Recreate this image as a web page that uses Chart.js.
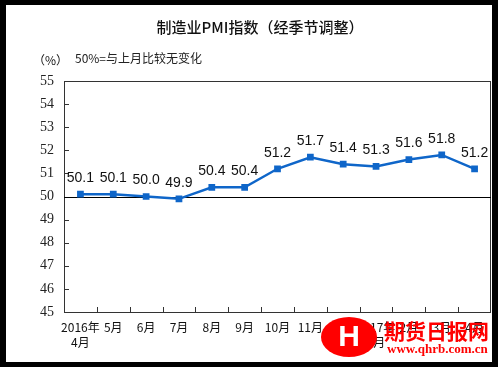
<!DOCTYPE html>
<html>
<head>
<meta charset="utf-8">
<script src="https://cdn.jsdelivr.net/npm/chart.js@4/dist/chart.umd.min.js"></script>
<style>
  html, body { margin: 0; padding: 0; background: #000; }
  #wrap { width: 498px; height: 367px; }
</style>
</head>
<body>
<div id="wrap"><canvas id="chart" width="498" height="367"></canvas></div>
<script>
// 月份标签
const months = [['2016年', '4月'], '5月', '6月', '7月', '8月', '9月', '10月', '11月', '12月', ['2017年', '1月'], '2月', '3月', '4月'];
// 制造业PMI
const pmi = [50.1, 50.1, 50.0, 49.9, 50.4, 50.4, 51.2, 51.7, 51.4, 51.3, 51.6, 51.8, 51.2];
const yTicks = [45, 46, 47, 48, 49, 50, 51, 52, 53, 54, 55];

const chartTitle = '制造业PMI指数（经季节调整）';
const unitText = '（%）';
const noteText = '50%=与上月比较无变化';
const markName = '期货日报网';
const markUrl = 'www.qhrb.com.cn';

const cjk = '"Noto Sans CJK SC", "Noto Sans", sans-serif';

// 背景, 框线, 刻度, 50线
const framePlugin = {
    id: 'frame',
    beforeDraw(chart) {
        const c = chart.ctx;
        c.save();
        c.fillStyle = '#000';
        c.fillRect(0, 0, chart.width, chart.height);
        c.fillStyle = '#fff';
        c.fillRect(6, 5, 486, 357);
        // 标题和说明
        c.fillStyle = '#111';
        c.textBaseline = 'middle';
        c.textAlign = 'center';
        c.font = '500 15px ' + cjk;
        c.fillText(chartTitle, 260, 27);
        c.font = '12px ' + cjk;
        c.textAlign = 'left';
        c.fillText(unitText, 33, 60);
        c.fillStyle = '#222';
        c.fillText(noteText, 75, 58);
        c.restore();
    },
    beforeDatasetsDraw(chart) {
        const c = chart.ctx;
        const a = chart.chartArea;
        const x = chart.scales.x;
        const y = chart.scales.y;
        c.save();
        c.strokeStyle = '#333';
        c.lineWidth = 1;
        c.strokeRect(Math.round(a.left) + 0.5, Math.round(a.top) + 0.5, Math.round(a.right - a.left) - 1, Math.round(a.bottom - a.top));
        // y 刻度 (向内)
        yTicks.forEach(function (v) {
            const py = Math.round(y.getPixelForValue(v)) + 0.5;
            c.beginPath();
            c.moveTo(a.left, py);
            c.lineTo(a.left + 5, py);
            c.stroke();
        });
        // x 刻度 (类别边界, 向上)
        const step = (a.right - a.left) / months.length;
        for (let i = 1; i < months.length; i++) {
            const px = Math.round(x.getPixelForValue(i) - step / 2) + 0.5;
            c.beginPath();
            c.moveTo(px, a.bottom);
            c.lineTo(px, a.bottom - 5);
            c.stroke();
        }
        // 50 线
        const p50 = Math.round(y.getPixelForValue(50)) + 0.5;
        c.strokeStyle = '#000';
        c.beginPath();
        c.moveTo(a.left, p50);
        c.lineTo(a.right, p50);
        c.stroke();
        c.restore();
    },
    afterDatasetsDraw(chart) {
        const c = chart.ctx;
        const meta = chart.getDatasetMeta(0);
        c.save();
        c.fillStyle = '#111';
        c.font = '14px "Liberation Sans", Arial, sans-serif';
        c.textAlign = 'center';
        c.textBaseline = 'middle';
        meta.data.forEach(function (pt, i) {
            c.fillText(pmi[i].toFixed(1), pt.x, pt.y - 16);
        });
        c.restore();
    },
    afterDraw(chart) {
        // 水印
        const c = chart.ctx;
        c.save();
        c.fillStyle = '#f00';
        c.beginPath();
        c.ellipse(349, 337, 28, 20, 0, 0, Math.PI * 2);
        c.fill();
        c.fillStyle = '#fff';
        c.font = 'bold 30px "Liberation Sans", sans-serif';
        c.textAlign = 'center';
        c.textBaseline = 'middle';
        c.fillText('H', 349, 338);
        c.fillStyle = '#f00';
        c.textAlign = 'left';
        c.font = 'bold 21px "Noto Sans CJK SC", sans-serif';
        c.fillText(markName, 384, 331);
        c.font = 'bold 13px "Liberation Serif", serif';
        c.fillText(markUrl, 387, 350);
        c.restore();
    }
};

const ctx = document.querySelector('#chart').getContext('2d');
const chart = new Chart(ctx, {
    type: 'line',
    data: {
        labels: months,
        datasets: [{
            data: pmi,
            borderColor: '#0f66c9',
            backgroundColor: '#0f66c9',
            borderWidth: 2.5,
            pointStyle: 'rect',
            pointRadius: 3,
            tension: 0
        }]
    },
    plugins: [framePlugin],
    options: {
        responsive: false,
        animation: false,
        layout: {
            padding: { top: 81, right: 7, left: 0, bottom: 0 }
        },
        scales: {
            x: {
                offset: true,
                border: { display: false },
                grid: { display: false, drawTicks: false },
                ticks: {
                    padding: 8,
                    color: '#111',
                    maxRotation: 0,
                    autoSkip: false,
                    font: { family: cjk, size: 12, lineHeight: 1.25 }
                },
                afterFit(scale) { scale.height = 55; }
            },
            y: {
                min: 45,
                max: 55,
                border: { display: false },
                grid: { display: false, drawTicks: false },
                ticks: {
                    stepSize: 1,
                    padding: 10,
                    color: '#222',
                    font: { family: '"Liberation Serif", serif', size: 14 }
                },
                afterFit(scale) { scale.width = 64; }
            }
        },
        plugins: {
            legend: { display: false },
            title: { display: false },
            tooltip: { enabled: false }
        }
    }
});
</script>
</body>
</html>
